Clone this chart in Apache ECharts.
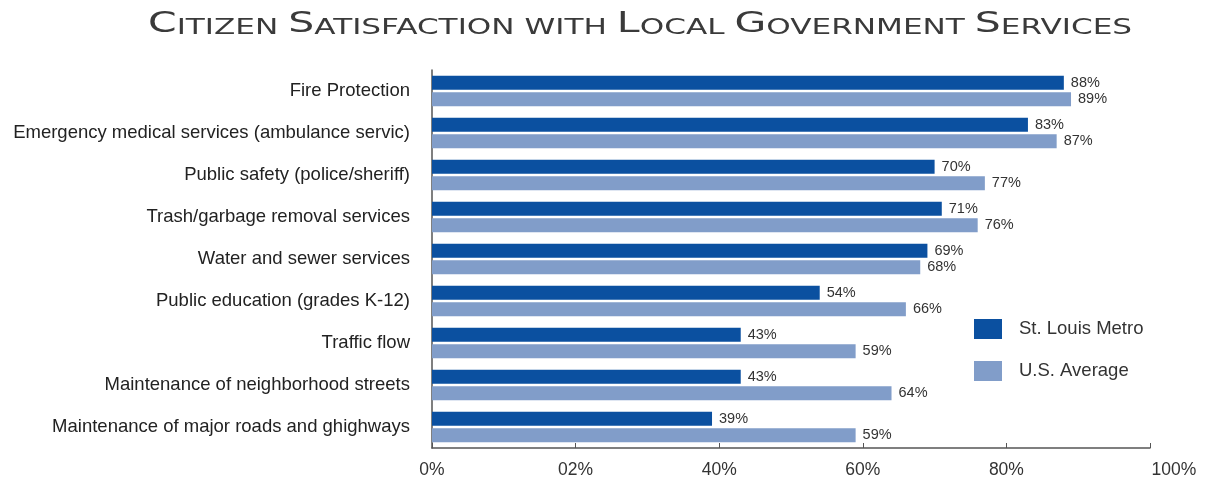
<!DOCTYPE html>
<html><head><meta charset="utf-8">
<script src="https://cdn.jsdelivr.net/npm/echarts@6/dist/echarts.min.js"></script>
<style>html,body{margin:0;padding:0;background:#fff}#c{width:1207px;height:485px}</style>
</head><body><div id="c"></div>
<script>
const titleText = 'Citizen Satisfaction with Local Government Services';
const categories = ['Fire Protection','Emergency medical services (ambulance servic)','Public safety (police/sheriff)','Trash/garbage removal services','Water and sewer services','Public education (grades K-12)','Traffic flow','Maintenance of neighborhood streets','Maintenance of major roads and ghighways'];
const stLouis = [88,83,70,71,69,54,43,43,39];
const usAvg = [89,87,77,76,68,66,59,64,59];
const seriesNames = ['St. Louis Metro','U.S. Average'];
const tickLabels = ['0%','02%','40%','60%','80%','100%'];

function smallCaps(s){
  let out='';let i=0;
  while(i<s.length){
    const ch=s[i];
    if(/[a-z ]/.test(ch)){let j=i;while(j<s.length&&/[a-z ]/.test(s[j]))j++;out+='{b|'+s.slice(i,j).toUpperCase()+'}';i=j;}
    else {out+='{a|'+ch+'}';i++;}
  }
  return out;
}
const chart = echarts.init(document.getElementById('c'));
const font='Liberation Sans';
chart.setOption({
  animation:false,
  graphic:[{type:'text',x:148,y:10,scaleX:1.415,
    style:{text:smallCaps(titleText),fill:'#3a3a3a',font:'29px "DejaVu Sans"',
      rich:{a:{fontSize:29,fontFamily:'DejaVu Sans',fill:'#3a3a3a',verticalAlign:'bottom'},
            b:{fontSize:22,fontFamily:'DejaVu Sans',fill:'#3a3a3a',verticalAlign:'bottom'}}}}],
  legend:{orient:'vertical',left:969,top:314,itemWidth:28,itemHeight:20,itemGap:22,
    textStyle:{fontFamily:font,fontSize:18.5,color:'#333',padding:[0,0,0,12]},icon:'rect',data:seriesNames},
  grid:{left:432,right:57,top:70,bottom:37,containLabel:false},
  xAxis:{type:'value',min:0,max:100,interval:20,
    axisLine:{show:true,lineStyle:{color:'#555',width:1.5}},
    axisTick:{show:true,inside:true,length:5,lineStyle:{color:'#555'}},
    splitLine:{show:false},
    axisLabel:{fontFamily:font,fontSize:17.5,color:'#333',margin:13,
      formatter:(v)=>{const t=tickLabels[Math.round(v/20)];return v===100?'{r|'+t+'}':t;},
      rich:{r:{fontFamily:font,fontSize:17.5,color:'#333',padding:[0,0,0,48]}}}},
  yAxis:{type:'category',data:categories,inverse:true,
    axisLine:{show:true,lineStyle:{color:'#555',width:1.5}},axisTick:{show:false},
    axisLabel:{fontFamily:font,fontSize:18.5,color:'#222',margin:22}},
  series:[
    {name:seriesNames[0],type:'bar',data:stLouis,barWidth:14,barGap:'18%',itemStyle:{color:'#0b50a0'},
     label:{show:true,position:'right',distance:7,formatter:'{c}%',fontFamily:font,fontSize:14.5,color:'#333'}},
    {name:seriesNames[1],type:'bar',data:usAvg,barWidth:14,itemStyle:{color:'#819dc9'},
     label:{show:true,position:'right',distance:7,formatter:'{c}%',fontFamily:font,fontSize:14.5,color:'#333'}}
  ]
});
</script></body></html>
